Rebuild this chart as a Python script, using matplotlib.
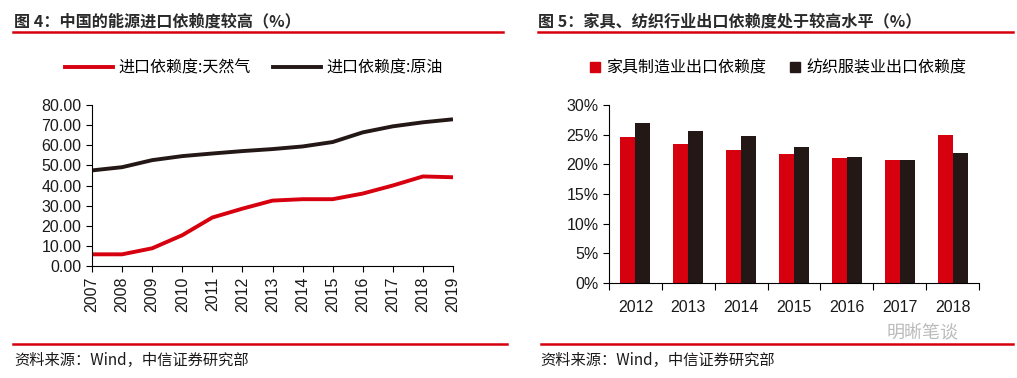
import matplotlib
matplotlib.use("Agg")
import matplotlib.pyplot as plt
import numpy as np
from matplotlib.lines import Line2D
from matplotlib.patches import Patch

plt.rcParams["font.family"] = ["Liberation Sans", "Noto Sans CJK SC", "DejaVu Sans"]
CJK = ["Noto Sans CJK SC", "DejaVu Sans"]

RED = "#d7000f"
BLACK = "#231815"
TXT = "#1a1a1a"

# fig 4: import dependence (%)
years = [2007, 2008, 2009, 2010, 2011, 2012, 2013, 2014, 2015, 2016, 2017, 2018, 2019]
gas = [5.8, 5.8, 8.8, 15.3, 24.1, 28.5, 32.5, 33.2, 33.2, 36.0, 40.0, 44.5, 44.1]
oil = [47.5, 49.1, 52.6, 54.6, 55.9, 57.1, 58.1, 59.4, 61.6, 66.4, 69.4, 71.4, 72.9]
gas_label = "进口依赖度:天然气"
oil_label = "进口依赖度:原油"

# fig 5: export dependence (%)
bar_years = ["2012", "2013", "2014", "2015", "2016", "2017", "2018"]
furniture = [24.55, 23.4, 22.5, 21.7, 21.0, 20.8, 24.9]
textile = [27.0, 25.7, 24.8, 23.0, 21.2, 20.7, 21.9]
furn_label = "家具制造业出口依赖度"
text_label = "纺织服装业出口依赖度"

W, H = 1017, 378
fig = plt.figure(figsize=(W / 100, H / 100), dpi=100)


def fx(px):
    return px / W


def fy(py):
    return 1 - py / H


def hline(x0, x1, y):
    fig.add_artist(Line2D([fx(x0), fx(x1)], [fy(y), fy(y)], color=RED, lw=1.8))


# headers and footers
fig.text(fx(14), fy(21), "图 4：中国的能源进口依赖度较高（%）", family=CJK,
         fontsize=11.6, weight="bold", color="#2a2a2a", va="center")
fig.text(fx(538), fy(21), "图 5：家具、纺织行业出口依赖度处于较高水平（%）", family=CJK,
         fontsize=11.6, weight="bold", color="#2a2a2a", va="center")
hline(13, 503, 32)
hline(538, 1013, 32)
hline(13, 507, 344)
hline(541, 1013, 344)
src = "资料来源：Wind，中信证券研究部"
fig.text(fx(14), fy(360), src, family=CJK, fontsize=11, color=TXT, va="center")
fig.text(fx(540), fy(360), src, family=CJK, fontsize=11, color=TXT, va="center")
fig.text(fx(887), fy(333), "明晰笔谈", family=CJK, fontsize=13, color="#bbbbbb", va="center")

# left chart
ax1 = fig.add_axes([fx(92), fy(266), fx(453 - 92), (266 - 105) / H])
ax1.plot(years, gas, color=RED, lw=2.8, solid_capstyle="butt")
ax1.plot(years, oil, color=BLACK, lw=2.8, solid_capstyle="butt")
ax1.set_xlim(2007, 2019)
ax1.set_ylim(0, 80)
ax1.set_xticks(years)
ax1.set_xticklabels([str(y) for y in years], rotation=90)
ax1.set_yticks(np.arange(0, 81, 10))
ax1.set_yticklabels([f"{v:.2f}" for v in np.arange(0, 81, 10)])
for s in ["top", "right"]:
    ax1.spines[s].set_visible(False)
ax1.tick_params(labelsize=11.5, colors="black", length=4, width=0.8, labelcolor=TXT)

fig.legend(
    handles=[Line2D([], [], color=RED, lw=2.8), Line2D([], [], color=BLACK, lw=2.8)],
    labels=[gas_label, oil_label], loc="center", bbox_to_anchor=(fx(254), fy(68)),
    ncol=2, frameon=False, handlelength=3.0, handletextpad=0.35, columnspacing=1.4,
    prop={"family": CJK, "size": 11.5})

# right chart
ax2 = fig.add_axes([fx(609), fy(283), fx(979 - 609), (283 - 105) / H])
x = np.arange(len(bar_years))
bw = 0.284
ax2.bar(x - bw / 2, furniture, bw, color=RED)
ax2.bar(x + bw / 2, textile, bw, color=BLACK)
ax2.set_xlim(-0.5, len(bar_years) - 0.5)
ax2.set_ylim(0, 30)
ax2.set_yticks(np.arange(0, 31, 5))
ax2.set_yticklabels([f"{v}%" for v in range(0, 31, 5)])
ax2.set_xticks(x)
ax2.set_xticklabels(bar_years)
ax2.set_xticks(np.arange(-0.5, len(bar_years), 1), minor=True)
ax2.tick_params(axis="x", which="major", length=0, pad=12)
ax2.tick_params(axis="x", which="minor", length=5, width=0.8)
ax2.tick_params(labelsize=11.5, labelcolor=TXT)
ax2.tick_params(axis="y", length=4, width=0.8)
for s in ["top", "right"]:
    ax2.spines[s].set_visible(False)

fig.legend(
    handles=[Patch(color=RED), Patch(color=BLACK)],
    labels=[furn_label, text_label], loc="center", bbox_to_anchor=(fx(778), fy(68)),
    ncol=2, frameon=False, handlelength=0.6, handleheight=0.6, handletextpad=0.4,
    columnspacing=1.5, prop={"family": CJK, "size": 11.5})

fig.savefig("out.png", dpi=100)
